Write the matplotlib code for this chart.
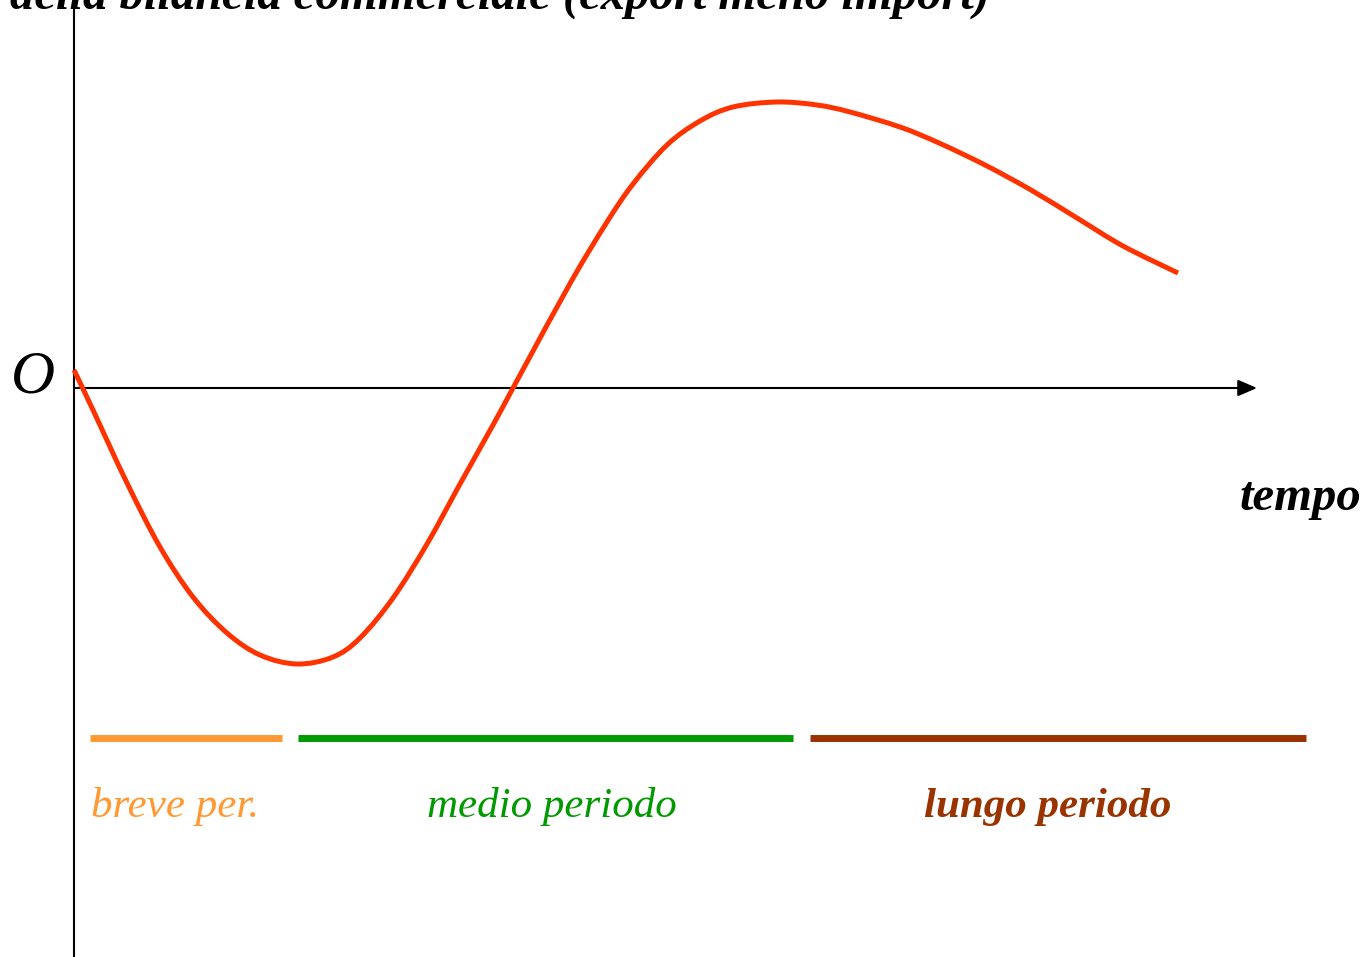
import matplotlib
matplotlib.use("Agg")
import matplotlib.pyplot as plt
import numpy as np
from matplotlib.path import Path
from matplotlib.patches import PathPatch

# J-curve: trade balance (export minus import) over time
time = [0, 19, 53, 86, 119, 153, 186, 223, 259, 286, 319, 353, 386, 419, 439,
        452, 498, 533, 559, 593, 626, 659, 703, 743, 776, 826, 865, 911, 957,
        1003, 1049, 1104]
balance = [18, -22, -95, -159, -209, -245, -267, -276, -269, -250, -210, -156, -96, -37, 0,
           24, 108, 166, 204, 243, 267, 281, 286, 283, 276, 261, 245, 223, 198,
           170, 142, 115]

period_labels = ["breve per.", "medio periodo", "lungo periodo"]
period_start = [16, 224, 736]
period_end = [208, 719, 1232]
period_colors = ["#ff9933", "#009900", "#993300"]
period_weights = ["normal", "normal", "bold"]

title_text = "della bilancia commerciale (export meno import)"
x_label = "tempo"
origin_label = "O"

plt.rcParams["font.family"] = ["Liberation Serif", "DejaVu Serif"]

fig = plt.figure(figsize=(13.66, 9.57), dpi=100)
ax = fig.add_axes([0, 0, 1, 1])
ax.set_xlim(-74, 1292)
ax.set_ylim(-569, 388)
ax.axis("off")

# axes
ax.axvline(0, color="black", lw=1.5)
ax.annotate("", xy=(1183, 0), xytext=(0, 0),
            arrowprops=dict(arrowstyle="-|>,head_length=0.58,head_width=0.25",
                            lw=1.5, color="black", mutation_scale=20,
                            shrinkA=0, shrinkB=0))

# smooth curve through the read points (Catmull-Rom rendered as cubic Beziers)
P = np.column_stack([time, balance]).astype(float)
n = len(P)
verts = [P[0]]
codes = [Path.MOVETO]
for i in range(n - 1):
    p0 = P[i - 1] if i > 0 else P[i]
    p1 = P[i]
    p2 = P[i + 1]
    p3 = P[i + 2] if i + 2 < n else P[i + 1]
    c1 = p1 + (p2 - p0) / 6.0
    c2 = p2 - (p3 - p1) / 6.0
    verts += [c1, c2, p2]
    codes += [Path.CURVE4] * 3
curve = PathPatch(Path(verts, codes), fill=False, edgecolor="#ff3300", lw=3.6,
                  capstyle="butt", joinstyle="round", zorder=3)
ax.add_patch(curve)

# period bars and labels
label_x = [101, 478, 974]
for lab, s, e, c, w, lx in zip(period_labels, period_start, period_end,
                               period_colors, period_weights, label_x):
    ax.plot([s, e], [-350, -350], color=c, lw=5, solid_capstyle="butt")
    ax.text(lx, -419, lab, color=c, fontsize=31, style="italic", fontweight=w,
            ha="center", va="center")

ax.text(-41, 10, origin_label, fontsize=44, style="italic", ha="center", va="center")
ax.text(1226, -122, x_label, fontsize=35, style="italic", fontweight="bold",
        ha="center", va="baseline")
ax.text(-64, 379, title_text, fontsize=35, style="italic", fontweight="bold",
        ha="left", va="baseline")

fig.savefig("out.png", dpi=100)
